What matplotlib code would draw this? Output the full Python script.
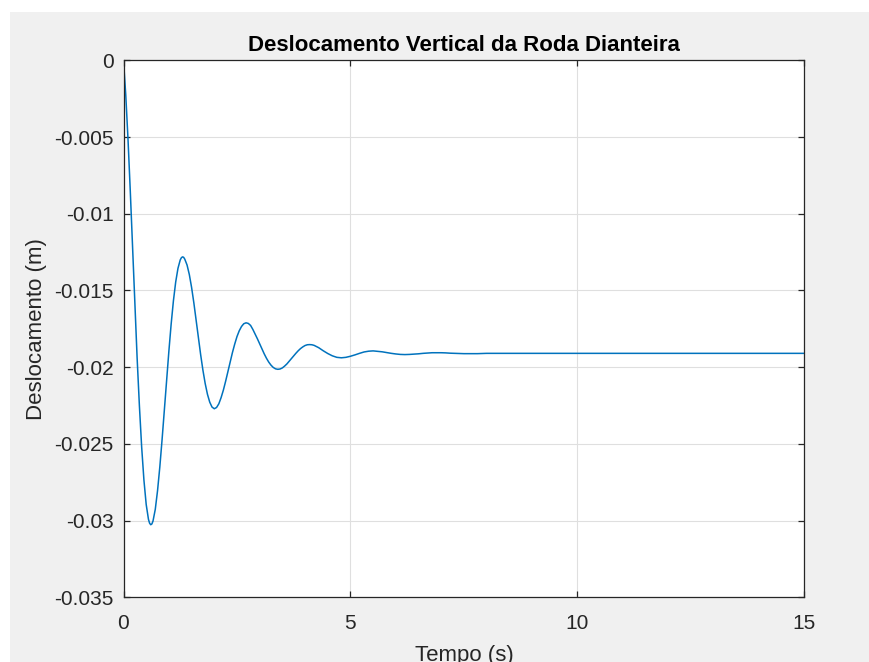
import matplotlib.pyplot as plt
from matplotlib.patches import Rectangle

# tempo (s) e deslocamento vertical (m)
tempo = [0.00, 0.05, 0.10, 0.15, 0.20, 0.25, 0.30, 0.35, 0.40, 0.45,
         0.50, 0.55, 0.575, 0.60, 0.625, 0.65, 0.70, 0.75, 0.80, 0.85, 0.90, 0.95,
         1.00, 1.05, 1.10, 1.15, 1.20, 1.25, 1.275, 1.30, 1.325, 1.35, 1.40, 1.45,
         1.50, 1.55, 1.60, 1.65, 1.70, 1.75, 1.80, 1.85, 1.90, 1.95,
         2.00, 2.05, 2.10, 2.15, 2.20, 2.25, 2.30, 2.35, 2.40, 2.45,
         2.50, 2.55, 2.60, 2.65, 2.70, 2.75, 2.80, 2.85, 2.90, 2.95,
         3.00, 3.05, 3.10, 3.15, 3.20, 3.25, 3.30, 3.35, 3.40, 3.45,
         3.50, 3.55, 3.60, 3.65, 3.70, 3.75, 3.80, 3.85, 3.90, 3.95,
         4.00, 4.05, 4.10, 4.15, 4.20, 4.30, 4.40, 4.50, 4.60, 4.70,
         4.80, 4.90, 5.00, 5.10, 5.20, 5.30, 5.40, 5.50, 5.60, 5.70,
         5.80, 5.90, 6.00, 6.10, 6.20, 6.30, 6.40, 6.50, 6.60, 6.70,
         6.80, 6.90, 7.00, 7.10, 7.20, 7.30, 7.40, 7.50, 7.60, 7.70,
         7.80, 7.90, 8.00, 8.40, 9.00, 10.00, 11.00, 12.00, 13.00, 14.00,
         15.00]

desloc = [0.0, -0.00227, -0.00519, -0.00856, -0.01219, -0.01586, -0.01939, -0.02250, -0.02520, -0.02736,
          -0.02895, -0.02992, -0.03017, -0.03027, -0.03022, -0.03003, -0.02927, -0.02805, -0.02651, -0.02472,
          -0.02278, -0.02083,
          -0.01895, -0.01719, -0.01567, -0.01445, -0.01356, -0.01301, -0.01287, -0.01281, -0.01284, -0.01296,
          -0.01334, -0.01396,
          -0.01480, -0.01581, -0.01694, -0.01809, -0.01919, -0.02020, -0.02107, -0.02177, -0.02228, -0.02260,
          -0.02271, -0.02263, -0.02239, -0.02199, -0.02150, -0.02092, -0.02029, -0.01966, -0.01905, -0.01850,
          -0.01801, -0.01763, -0.01735, -0.01717, -0.01711, -0.01715, -0.01728, -0.01754, -0.01784, -0.01815,
          -0.01848, -0.01881, -0.01913, -0.01942, -0.01967, -0.01987, -0.02002, -0.02011, -0.02014, -0.02012,
          -0.02005, -0.01993, -0.01979, -0.01962, -0.01944, -0.01926, -0.01909, -0.01893, -0.01879, -0.01868,
          -0.01859, -0.01854, -0.01853, -0.01854, -0.01858, -0.01873, -0.01893, -0.01911, -0.01926, -0.01936,
          -0.01939, -0.01936, -0.01929, -0.01920, -0.01910, -0.01901, -0.01896, -0.01894, -0.01897, -0.01900,
          -0.01905, -0.01910, -0.01914, -0.01917, -0.01918, -0.01917, -0.01915, -0.01913, -0.01910, -0.01908,
          -0.01906, -0.01906, -0.01906, -0.01907, -0.01909, -0.01910, -0.01911, -0.01912, -0.01912, -0.01912,
          -0.01912, -0.01911, -0.01910, -0.01910, -0.0191, -0.0191, -0.0191, -0.0191, -0.0191, -0.0191,
          -0.0191]

xticks = [0, 5, 10, 15]
yticks = [0, -0.005, -0.01, -0.015, -0.02, -0.025, -0.03, -0.035]
ytick_labels = ["0", "-0.005", "-0.01", "-0.015", "-0.02", "-0.025", "-0.03", "-0.035"]

plt.rcParams["font.family"] = ["Liberation Sans", "DejaVu Sans"]

fig = plt.figure(figsize=(8.69, 6.62), dpi=100, facecolor="white")
# fundo cinza da janela do MATLAB
fig.patches.append(Rectangle((10 / 869, 0), 1, 650 / 662, transform=fig.transFigure,
                             facecolor="#f0f0f0", edgecolor="none", zorder=-10))

ax = fig.add_axes([123.5 / 869, 1 - 597.3 / 662, (804.3 - 123.5) / 869, (597.3 - 60.3) / 662])
ax.plot(tempo, desloc, color="#0072BD", linewidth=1.1)

ax.set_xlim(0, 15)
ax.set_ylim(-0.035, 0)
ax.set_xticks(xticks)
ax.set_yticks(yticks)
ax.set_yticklabels(ytick_labels)
ax.grid(True, color="#dfdfdf", linewidth=0.8)
ax.set_axisbelow(True)

for s in ax.spines.values():
    s.set_color("#262626")
    s.set_linewidth(0.9)
ax.tick_params(direction="in", length=4.5, width=0.9, color="#262626", labelcolor="#262626",
               labelsize=15, top=True, right=True)
ax.tick_params(axis="x", pad=12)
ax.tick_params(axis="y", pad=7)

ax.set_title("Deslocamento Vertical da Roda Dianteira", fontsize=16, fontweight="bold",
             color="black", pad=7)
ax.set_xlabel("Tempo (s)", fontsize=16, color="#262626", labelpad=9)
ax.set_ylabel("Deslocamento (m)", fontsize=16, color="#262626", labelpad=5)

fig.savefig("out.png", dpi=100, facecolor=fig.get_facecolor())
